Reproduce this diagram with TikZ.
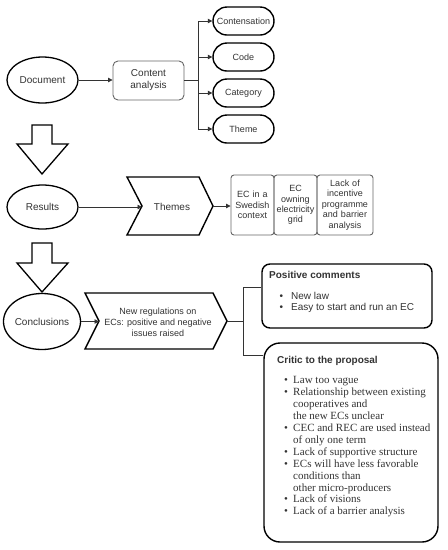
\documentclass[tikz,border=0pt]{standalone}
\usepackage{fontspec}
\setmainfont{Liberation Serif}
\setsansfont{Liberation Sans}
\usetikzlibrary{shapes.geometric,shapes.misc,arrows.meta}
\definecolor{txt}{HTML}{333333}
\definecolor{ln}{HTML}{333333}
\definecolor{gbd}{HTML}{666666}
\tikzset{
  ell/.style={ellipse,draw=black,line width=1.3pt,inner sep=0pt,text=txt,font=\sffamily\fontsize{10}{12}\selectfont},
  ovl/.style={rounded rectangle,draw=black,line width=1.4pt,inner sep=0pt,minimum width=61pt,minimum height=28pt,text=txt,font=\sffamily\fontsize{9}{11}\selectfont},
  gbox/.style={draw=gbd,line width=0.9pt,rounded corners=3pt,inner sep=0pt,align=center,text=txt,font=\sffamily\fontsize{9}{10.4}\selectfont,minimum height=60pt},
  blk/.style={draw=black,line width=1.3pt,line join=miter},
  chev/.style={draw=black,line width=1.4pt,line join=miter},
  arr/.style={draw=ln,line width=0.8pt,-{Triangle[length=4.5pt,width=4.5pt]}},
  con/.style={draw=ln,line width=0.8pt},
  bigbox/.style={draw=black,line width=1.4pt,inner sep=0pt},
  lbl/.style={text=txt,inner sep=0pt},
}
\begin{document}
\begin{tikzpicture}[x=1pt,y=-1pt]
\useasboundingbox[fill=white] (0,0) rectangle (448,550);
% row 1
\node[ell,minimum width=71pt,minimum height=46pt] (doc) at (42.5,80) {Document};
\node[draw=gbd,line width=0.9pt,rounded corners=5pt,minimum width=71pt,minimum height=39pt,inner sep=0pt,align=center,text=txt,font=\sffamily\fontsize{10}{12}\selectfont] (ca) at (148.5,80.5) {Content\\analysis};
\node[ovl] (o1) at (243.5,21) {Contensation};
\node[ovl] (o2) at (243.5,57) {Code};
\node[ovl] (o3) at (243.5,93) {Category};
\node[ovl] (o4) at (243.5,129) {Theme};
\coordinate (br) at (198,80.5);
\draw[arr] (doc.east) -- (doc.east -| ca.west);
\draw[con] (ca.east) -- (br);
\draw[con] (br |- o1.west) -- (br |- o4.west);
\foreach \o in {o1,o2,o3,o4} \draw[arr] (br |- \o.west) -- (\o.west);
% block arrow 1
\draw[blk] (32,125) -- (52,125) -- (52,144) -- (68,144) -- (42,174) -- (17,144) -- (32,144) -- cycle;
% row 2
\node[ell,minimum width=71pt,minimum height=44pt] (res) at (42.5,207) {Results};
\draw[chev] (127,177) -- (199,177) -- (213,206) -- (199,235) -- (127,235) -- (142,206) -- cycle;
\coordinate (thn) at (142,206);
\coordinate (tht) at (213,206);
\node[lbl,font=\sffamily\fontsize{10}{12}\selectfont] (themes) at (172,207) {Themes};
\draw[arr] (res.east) -- (res.east -| thn);
\node[gbox,minimum width=43pt,text width=41pt] (b1) at (252.5,205) {EC in a\\Swedish\\context};
\node[gbox,minimum width=43pt,text width=41pt] (b2) at (295.5,205) {EC\\owning\\electricity\\grid};
\node[gbox,minimum width=56pt,text width=54pt] (b3) at (345,205) {Lack of\\incentive\\programme\\and barrier\\analysis};
\draw[arr] (tht) -- (tht -| b1.west);
% block arrow 2
\draw[blk] (32,243) -- (52,243) -- (52,263) -- (68,263) -- (42,292) -- (17,263) -- (32,263) -- cycle;
% row 3
\node[ell,minimum width=70pt,minimum height=56pt] (conc) at (42,321.5) {Conclusions};
\draw[chev] (85,293) -- (213,293) -- (227,321) -- (213,349) -- (85,349) -- (99,321) -- cycle;
\coordinate (c2n) at (99,321);
\coordinate (c2t) at (227,321);
\node[lbl,align=center,font=\sffamily\fontsize{9}{11}\selectfont] (reg) at (158,322) {New regulations on\\ECs: positive and negative\\issues raised};
\draw[arr] (conc.east) -- (conc.east -| c2n);
\node[bigbox,rounded corners=8pt,minimum width=170pt,minimum height=64pt] (pos) at (347,296) {};
\node[bigbox,rounded corners=16pt,minimum width=174pt,minimum height=199pt] (crit) at (351,442.5) {};
\coordinate (j) at (243,321);
\coordinate (jp) at (243,287);
\coordinate (jc) at (243,355);
\draw[con] (c2t) -- (j);
\draw[con] (jp) -- (jc);
\draw[con] (jp) -- (jp -| pos.west);
\draw[con] (jc) -- (jc -| crit.west);
% positive text
\node[lbl,anchor=base west,font=\sffamily\bfseries\fontsize{10}{12}\selectfont] (pt) at (269,278.5) {Positive comments};
\node[lbl,anchor=north west,align=left,font=\sffamily\fontsize{10}{11}\selectfont] (pl) at (279.5,292.5) {\makebox[11.5pt][l]{\textbullet}New law\\\makebox[11.5pt][l]{\textbullet}Easy to start and run an EC};
% critic text
\node[lbl,anchor=base west,font=\sffamily\bfseries\fontsize{10}{12}\selectfont] (ct) at (277,363.5) {Critic to the proposal};
\node[lbl,anchor=north west,align=left,font=\rmfamily\fontsize{11}{11.9}\selectfont] (cl) at (284,376.5) {%
\makebox[9pt][l]{\textbullet}Law too vague\\
\makebox[9pt][l]{\textbullet}Relationship between existing\\
\hspace*{9pt}cooperatives and\\
\hspace*{9pt}the new ECs unclear\\
\makebox[9pt][l]{\textbullet}CEC and REC are used instead\\
\hspace*{9pt}of only one term\\
\makebox[9pt][l]{\textbullet}Lack of supportive structure\\
\makebox[9pt][l]{\textbullet}ECs will have less favorable\\
\hspace*{9pt}conditions than\\
\hspace*{9pt}other micro-producers\\
\makebox[9pt][l]{\textbullet}Lack of visions\\
\makebox[9pt][l]{\textbullet}Lack of a barrier analysis};
\end{tikzpicture}
\end{document}
